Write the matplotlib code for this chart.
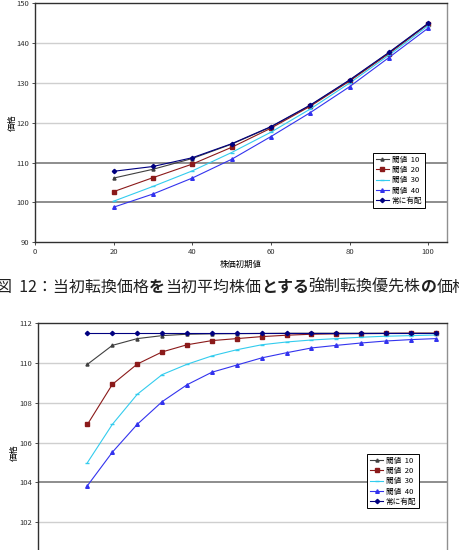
import matplotlib
matplotlib.use('Agg')
import matplotlib.pyplot as plt
from matplotlib.offsetbox import TextArea, HPacker, AnchoredOffsetbox

plt.rcParams['font.family'] = ['Noto Sans CJK JP', 'DejaVu Sans']

# --- data -----------------------------------------------------------------
labels = ['閾値  10', '閾値  20', '閾値  30', '閾値  40', '常に有配']

x_top = [20, 30, 40, 50, 60, 70, 80, 90, 100]
top_t10 = [106.1, 108.3, 111.0, 114.6, 118.9, 124.3, 130.6, 137.5, 144.8]
top_t20 = [102.7, 106.2, 109.6, 113.8, 118.6, 124.1, 130.4, 137.3, 144.7]
top_t30 = [100.3, 104.0, 107.9, 112.5, 117.6, 123.4, 129.9, 136.9, 144.3]
top_t40 = [98.8, 102.1, 106.1, 110.8, 116.5, 122.5, 129.0, 136.3, 143.7]
top_all = [107.8, 109.0, 111.2, 114.7, 119.0, 124.4, 130.7, 137.6, 144.9]

x_bot = [2, 3, 4, 5, 6, 7, 8, 9, 10, 11, 12, 13, 14, 15, 16]
bot_t10 = [109.94, 110.89, 111.23, 111.38, 111.45, 111.47, 111.48, 111.49,
           111.50, 111.50, 111.50, 111.50, 111.50, 111.50, 111.50]
bot_t20 = [106.92, 108.93, 109.95, 110.56, 110.92, 111.13, 111.23, 111.33,
           111.40, 111.45, 111.47, 111.48, 111.49, 111.50, 111.50]
bot_t30 = [105.00, 106.92, 108.43, 109.42, 109.94, 110.36, 110.67, 110.92,
           111.06, 111.16, 111.23, 111.30, 111.35, 111.38, 111.41]
bot_t40 = [103.84, 105.52, 106.92, 108.06, 108.91, 109.54, 109.90, 110.26,
           110.52, 110.76, 110.89, 111.01, 111.11, 111.18, 111.23]
bot_all = [111.53] * 15

caption = [('図  12：当初転換価格', 'normal'), ('を', 'bold'), ('当初平均株価', 'normal'),
           ('とする', 'bold'), ('強制転換優先株', 'normal'), ('の', 'bold'), ('価格', 'normal')]

# --- styles ---------------------------------------------------------------
styles = [
    dict(color='#404040', marker='^', ms=2.2),
    dict(color='#8B1A1A', marker='s', ms=2.4),
    dict(color='#33CCEE', marker='_', ms=3.0),
    dict(color='#3333EE', marker='^', ms=2.6),
    dict(color='#000080', marker='D', ms=2.2),
]


def setup(ax, ylim, yticks, dark, xlim, xticks, hide=()):
    ax.set_ylim(*ylim)
    ax.set_xlim(*xlim)
    ax.set_yticks(yticks)
    ax.set_yticklabels(['' if y in hide else str(y) for y in yticks])
    ax.set_xticks(xticks)
    for y in yticks:
        if y in dark:
            ax.axhline(y, color='#7a7a7a', lw=1.2, zorder=0)
        elif y not in ylim:
            ax.axhline(y, color='#cfcfcf', lw=1.0, zorder=0)
    for s in ['left', 'bottom', 'top']:
        ax.spines[s].set_color('#303030')
        ax.spines[s].set_linewidth(1.0)
    ax.spines['right'].set_color('#909090')
    ax.spines['right'].set_linewidth(1.0)
    ax.tick_params(labelsize=5.5, length=2, width=0.6, colors='#303030', pad=2)
    ax.set_ylabel('価格', fontsize=6)


def draw(ax, x, series, anchor):
    for ys, st, lab in zip(series, styles, labels):
        ax.plot(x, ys, color=st['color'], lw=0.8, marker=st['marker'],
                ms=st['ms'], mec=st['color'], mfc=st['color'], label=lab)
    leg = ax.legend(loc='upper left', bbox_to_anchor=anchor, fontsize=5.5,
                    frameon=True, fancybox=False, framealpha=1, edgecolor='black',
                    handlelength=1.8, handletextpad=0.3, borderpad=0.35,
                    labelspacing=0.3, borderaxespad=0)
    leg.get_frame().set_linewidth(0.7)


fig = plt.figure(figsize=(4.6, 5.5), dpi=100)

ax1 = fig.add_axes([0.0761, 0.5595, 0.8957, 0.4351])
setup(ax1, (90, 150), [90, 100, 110, 120, 130, 140, 150], [100, 110],
      (0, 104.8), [0, 20, 40, 60, 80, 100])
draw(ax1, x_top, [top_t10, top_t20, top_t30, top_t40, top_all], (0.82, 0.373))
ax1.set_xlabel('株価初期値', fontsize=6, labelpad=3)
ax1.yaxis.set_label_coords(-0.045, 0.5)

ax2 = fig.add_axes([0.082, -0.0218, 0.8898, 0.434])
setup(ax2, (100, 112), [100, 102, 104, 106, 108, 110, 112], [104],
      (0, 16.45), [0, 2, 4, 6, 8, 10, 12, 14, 16], hide=(100,))
draw(ax2, x_bot, [bot_t10, bot_t20, bot_t30, bot_t40, bot_all], (0.8045, 0.4525))
ax2.set_xticklabels([])
ax2.yaxis.set_label_coords(-0.045, 0.46)

# caption between the charts
parts = [TextArea(t, textprops=dict(fontsize=11.5, fontweight=w, color='#202020'))
         for t, w in caption]
box = HPacker(children=parts, pad=0, sep=0, align='baseline')
anch = AnchoredOffsetbox(loc='center left', child=box, pad=0, frameon=False,
                         bbox_to_anchor=(-0.009, 0.478),
                         bbox_transform=fig.transFigure, borderpad=0)
fig.add_artist(anch)

fig.savefig('out.png', dpi=100)
